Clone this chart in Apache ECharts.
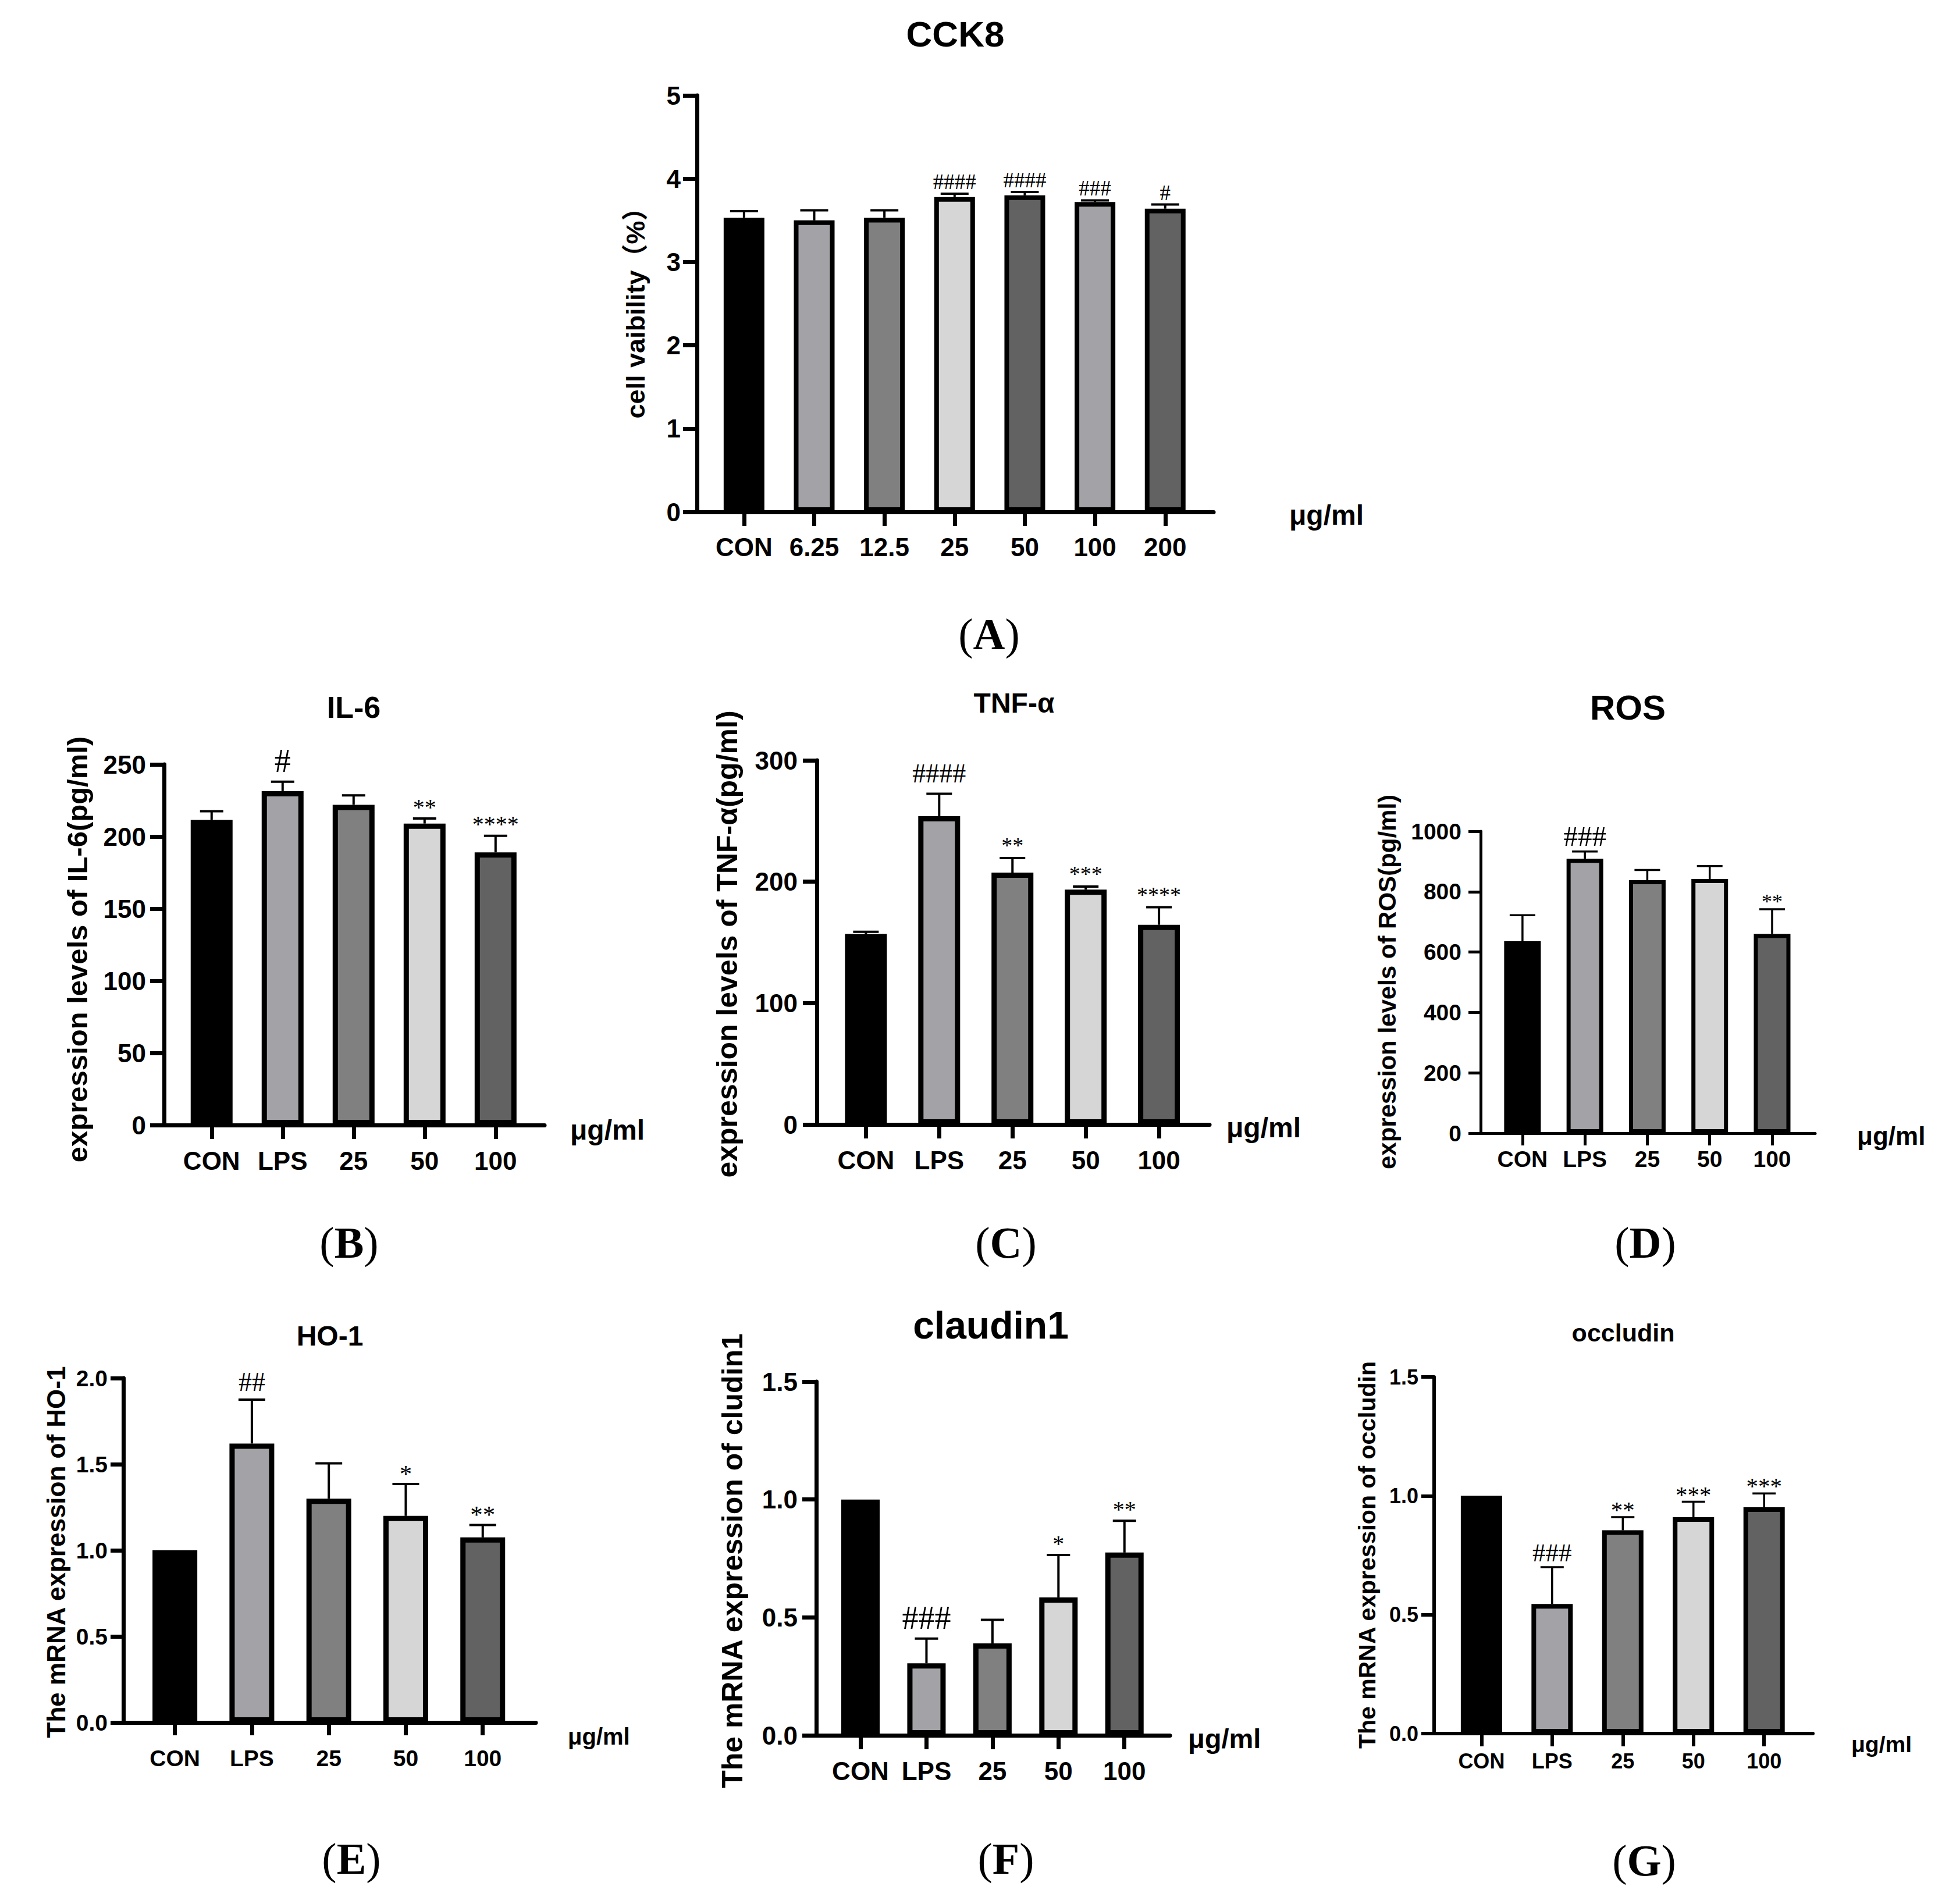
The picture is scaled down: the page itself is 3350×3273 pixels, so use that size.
<!DOCTYPE html>
<html><head><meta charset="utf-8">
<script src="https://cdn.jsdelivr.net/npm/echarts@6/dist/echarts.min.js"></script>
<style>html,body{margin:0;padding:0;background:#fff}#c{width:3350px;height:3273px}</style>
</head><body><div id="c"></div>
<script>
// ---------------- data ----------------
const cckCategories = ['CON', '6.25', '12.5', '25', '50', '100', '200'];
const cckValues = [3.53, 3.50, 3.53, 3.78, 3.80, 3.72, 3.64];
const cckSD = [0.08, 0.12, 0.09, 0.04, 0.04, 0.02, 0.05];
const cckMarks = ['', '', '', '####', '####', '###', '#'];
const cckTicks = [0, 1, 2, 3, 4, 5];

const groupCategories = ['CON', 'LPS', '25', '50', '100'];

const il6Values = [211.5, 231.5, 222, 209, 189];
const il6SD = [6, 6.5, 6.5, 3.5, 11.5];
const il6Marks = ['', '#', '', '**', '****'];
const il6Ticks = [0, 50, 100, 150, 200, 250];

const tnfValues = [157, 254, 207.5, 193.5, 164.5];
const tnfSD = [1.7, 18.5, 12, 2.5, 14.5];
const tnfMarks = ['', '####', '**', '***', '****'];
const tnfTicks = [0, 100, 200, 300];

const rosValues = [636, 909, 838, 842, 660];
const rosSD = [86, 24, 34, 43, 82];
const rosMarks = ['', '###', '', '', '**'];
const rosTicks = [0, 200, 400, 600, 800, 1000];

const ho1Values = [1.00, 1.62, 1.30, 1.20, 1.075];
const ho1SD = [0, 0.255, 0.205, 0.185, 0.072];
const ho1Marks = ['', '##', '', '*', '**'];
const ho1Ticks = [0, 0.5, 1.0, 1.5, 2.0];

const cldValues = [1.00, 0.305, 0.39, 0.585, 0.775];
const cldSD = [0, 0.105, 0.10, 0.18, 0.135];
const cldMarks = ['', '###', '', '*', '**'];
const cldTicks = [0, 0.5, 1.0, 1.5];

const occValues = [1.00, 0.545, 0.855, 0.91, 0.952];
const occSD = [0, 0.155, 0.055, 0.065, 0.058];
const occMarks = ['', '###', '**', '***', '***'];
const occTicks = [0, 0.5, 1.0, 1.5];

// ---------------- styles / layout ----------------
const SANS = '"Liberation Sans", Arial, "Noto Sans CJK SC", sans-serif';
const SERIF = '"Liberation Serif", "Times New Roman", serif';
const C0 = '#000000', C1 = '#a3a3a7', C2 = '#808080', C3 = '#d6d6d6', C4 = '#626262';
const groupColors = [C0, C1, C2, C3, C4];

const panels = [
  { letter: 'A', title: 'CCK8', cats: cckCategories, values: cckValues, sd: cckSD, marks: cckMarks, ticks: cckTicks, dec: 0,
    colors: [C0, C1, C2, C3, C4, C1, C4],
    grid: { left: 1198, top: 164, width: 888, height: 716 },
    yName: 'cell vaibility（%）', yNamePos: [1092, 527], yNameSize: 45,
    titlePos: [1642, 58], titleSize: 62, unitPos: [2216, 885], unitSize: 48, letterPos: [1700, 1090],
    fs: 44, xMargin: 38, yMargin: 28, barW: 78, border: 8, axisW: 7, tickLen: 24, capW: 48, errW: 4,
    hashSize: 37, starSize: 38, gap: 8 },
  { letter: 'B', title: 'IL-6', cats: groupCategories, values: il6Values, sd: il6SD, marks: il6Marks, ticks: il6Ticks, dec: 0,
    colors: groupColors,
    grid: { left: 282, top: 1314, width: 654, height: 620 },
    yName: 'expression levels of IL-6(pg/ml)', yNamePos: [133, 1632], yNameSize: 49,
    titlePos: [608, 1216], titleSize: 52, unitPos: [980, 1942], unitSize: 48, letterPos: [600, 2136],
    fs: 44, xMargin: 39, yMargin: 31, barW: 81, border: 9, axisW: 7, tickLen: 24, capW: 40, errW: 4,
    hashSize: 56, starSize: 40, gap: 17 },
  { letter: 'C', title: 'TNF-α', cats: groupCategories, values: tnfValues, sd: tnfSD, marks: tnfMarks, ticks: tnfTicks, dec: 0,
    colors: groupColors,
    grid: { left: 1404, top: 1307, width: 675, height: 626 },
    yName: 'expression levels of TNF-α(pg/ml)', yNamePos: [1250, 1623], yNameSize: 50,
    titlePos: [1743, 1208], titleSize: 48, unitPos: [2108, 1938], unitSize: 48, letterPos: [1729, 2136],
    fs: 44, xMargin: 39, yMargin: 33, barW: 81, border: 9, axisW: 7, tickLen: 24, capW: 44, errW: 4,
    hashSize: 46, starSize: 38, gap: 19 },
  { letter: 'D', title: 'ROS', cats: groupCategories, values: rosValues, sd: rosSD, marks: rosMarks, ticks: rosTicks, dec: 0,
    colors: groupColors,
    grid: { left: 2545, top: 1429, width: 575, height: 519 },
    yName: 'expression levels of ROS(pg/ml)', yNamePos: [2384, 1688], yNameSize: 42,
    titlePos: [2798, 1216], titleSize: 60, unitPos: [3192, 1952], unitSize: 44, letterPos: [2828, 2136],
    fs: 39, xMargin: 25, yMargin: 33, barW: 70, border: 7, axisW: 5, tickLen: 21, capW: 44, errW: 3.5,
    hashSize: 49, starSize: 36, gap: 10 },
  { letter: 'E', title: 'HO-1', cats: groupCategories, values: ho1Values, sd: ho1SD, marks: ho1Marks, ticks: ho1Ticks, dec: 1,
    colors: groupColors,
    grid: { left: 212, top: 2369, width: 709, height: 592 },
    yName: 'The mRNA expression of HO-1', yNamePos: [96, 2668], yNameSize: 44,
    titlePos: [567, 2296], titleSize: 48, unitPos: [976, 2985], unitSize: 40, letterPos: [604, 3195],
    fs: 39, xMargin: 42, yMargin: 27, barW: 86, border: 9, axisW: 7, tickLen: 22, capW: 46, errW: 4,
    hashSize: 46, starSize: 43, gap: 15 },
  { letter: 'F', title: 'claudin1', cats: groupCategories, values: cldValues, sd: cldSD, marks: cldMarks, ticks: cldTicks, dec: 1,
    colors: groupColors,
    grid: { left: 1403, top: 2375, width: 608, height: 608 },
    yName: 'The mRNA expression of cludin1', yNamePos: [1259, 2683], yNameSize: 50,
    titlePos: [1703, 2278], titleSize: 66, unitPos: [2042, 2988], unitSize: 47, letterPos: [1729, 3195],
    fs: 44, xMargin: 39, yMargin: 32, barW: 75, border: 9, axisW: 7, tickLen: 24, capW: 40, errW: 4,
    hashSize: 56, starSize: 40, gap: 17 },
  { letter: 'G', title: 'occludin', cats: groupCategories, values: occValues, sd: occSD, marks: occMarks, ticks: occTicks, dec: 1,
    colors: groupColors,
    grid: { left: 2465, top: 2367, width: 651, height: 613 },
    yName: 'The mRNA expression of occludin', yNamePos: [2350, 2673], yNameSize: 41,
    titlePos: [2790, 2291], titleSize: 43, unitPos: [3182, 2998], unitSize: 39, letterPos: [2826, 3198],
    fs: 36, xMargin: 29, yMargin: 27, barW: 79, border: 8, axisW: 6, tickLen: 22, capW: 40, errW: 3.5,
    hashSize: 45, starSize: 41, gap: 10 }
];

// ---------------- build option ----------------
const grids = [], xAxes = [], yAxes = [], series = [], graphics = [];

panels.forEach((p, k) => {
  const n = p.cats.length;
  const idx = p.cats.map((c, i) => i);
  grids.push(Object.assign({ containLabel: false }, p.grid));
  const lineStyle = { color: '#000', width: p.axisW };
  const labelStyle = { color: '#000', fontWeight: 'bold', fontFamily: SANS, fontSize: p.fs };
  xAxes.push({
    gridIndex: k, type: 'value', min: -0.67, max: n - 1 + 0.69,
    axisLine: { show: true, onZero: false, lineStyle },
    axisTick: { show: true, length: p.tickLen, lineStyle, customValues: idx },
    axisLabel: Object.assign({ customValues: idx, margin: p.xMargin,
      formatter: v => p.cats[Math.round(v)] }, labelStyle),
    splitLine: { show: false }
  });
  const t = p.ticks;
  yAxes.push({
    gridIndex: k, type: 'value', min: t[0], max: t[t.length - 1], interval: t[1] - t[0],
    axisLine: { show: true, onZero: false, lineStyle },
    axisTick: { show: true, length: p.tickLen, lineStyle },
    axisLabel: Object.assign({ margin: p.yMargin, formatter: v => v.toFixed(p.dec) }, labelStyle),
    splitLine: { show: false }
  });
  series.push({
    type: 'bar', xAxisIndex: k, yAxisIndex: k, barWidth: p.barW - p.border, z: 2,
    itemStyle: { borderColor: '#000', borderWidth: p.border },
    data: p.values.map((v, i) => ({ value: [i, v], itemStyle: { color: p.colors[i] } }))
  });
  series.push({
    type: 'custom', xAxisIndex: k, yAxisIndex: k, z: 3,
    data: p.values.map((v, i) => [i, v, p.sd[i]]),
    renderItem: (params, api) => {
      const i = api.value(0), v = api.value(1), s = api.value(2);
      const base = api.coord([i, v]);
      const top = api.coord([i, v + s]);
      const children = [];
      const ls = { stroke: '#000', lineWidth: p.errW };
      if (s > 0) {
        children.push({ type: 'line', shape: { x1: base[0], y1: base[1], x2: top[0], y2: top[1] }, style: ls });
        children.push({ type: 'line', shape: { x1: top[0] - p.capW / 2, y1: top[1], x2: top[0] + p.capW / 2, y2: top[1] }, style: ls });
      }
      const mark = p.marks[params.dataIndex];
      if (mark) {
        const star = mark[0] === '*';
        const fsz = star ? p.starSize : p.hashSize;
        const baseline = star ? top[1] - p.gap + 0.27 * fsz : top[1] - p.gap;
        children.push({ type: 'text', style: {
          text: mark, x: top[0], y: baseline - 0.34 * fsz, fill: '#000',
          font: fsz + 'px ' + SERIF, align: 'center', verticalAlign: 'middle' } });
      }
      return { type: 'group', children };
    }
  });
  // titles, axis names, unit, panel letters
  graphics.push({ type: 'text', x: p.titlePos[0], y: p.titlePos[1], style: {
    text: p.title, fill: '#000', font: 'bold ' + p.titleSize + 'px ' + SANS, align: 'center', verticalAlign: 'middle' } });
  graphics.push({ type: 'text', x: p.yNamePos[0], y: p.yNamePos[1], rotation: Math.PI / 2, style: {
    text: p.yName, fill: '#000', font: 'bold ' + p.yNameSize + 'px ' + SANS, align: 'center', verticalAlign: 'middle' } });
  graphics.push({ type: 'text', x: p.unitPos[0], y: p.unitPos[1], style: {
    text: 'μg/ml', fill: '#000', font: 'bold ' + p.unitSize + 'px ' + SANS, align: 'left', verticalAlign: 'middle' } });
  graphics.push({ type: 'text', x: p.letterPos[0], y: p.letterPos[1], style: {
    text: '{p|(}{b|' + p.letter + '}{p|)}', fill: '#000', align: 'center', verticalAlign: 'middle',
    rich: { p: { fontFamily: SERIF, fontSize: 76, fill: '#000' }, b: { fontFamily: SERIF, fontSize: 76, fontWeight: 'bold', fill: '#000' } } } });
});

const chart = echarts.init(document.getElementById('c'), null, { renderer: 'svg', width: 3350, height: 3273 });
chart.setOption({
  backgroundColor: '#fff',
  animation: false,
  grid: grids, xAxis: xAxes, yAxis: yAxes, series, graphic: graphics
});
</script>
</body></html>
